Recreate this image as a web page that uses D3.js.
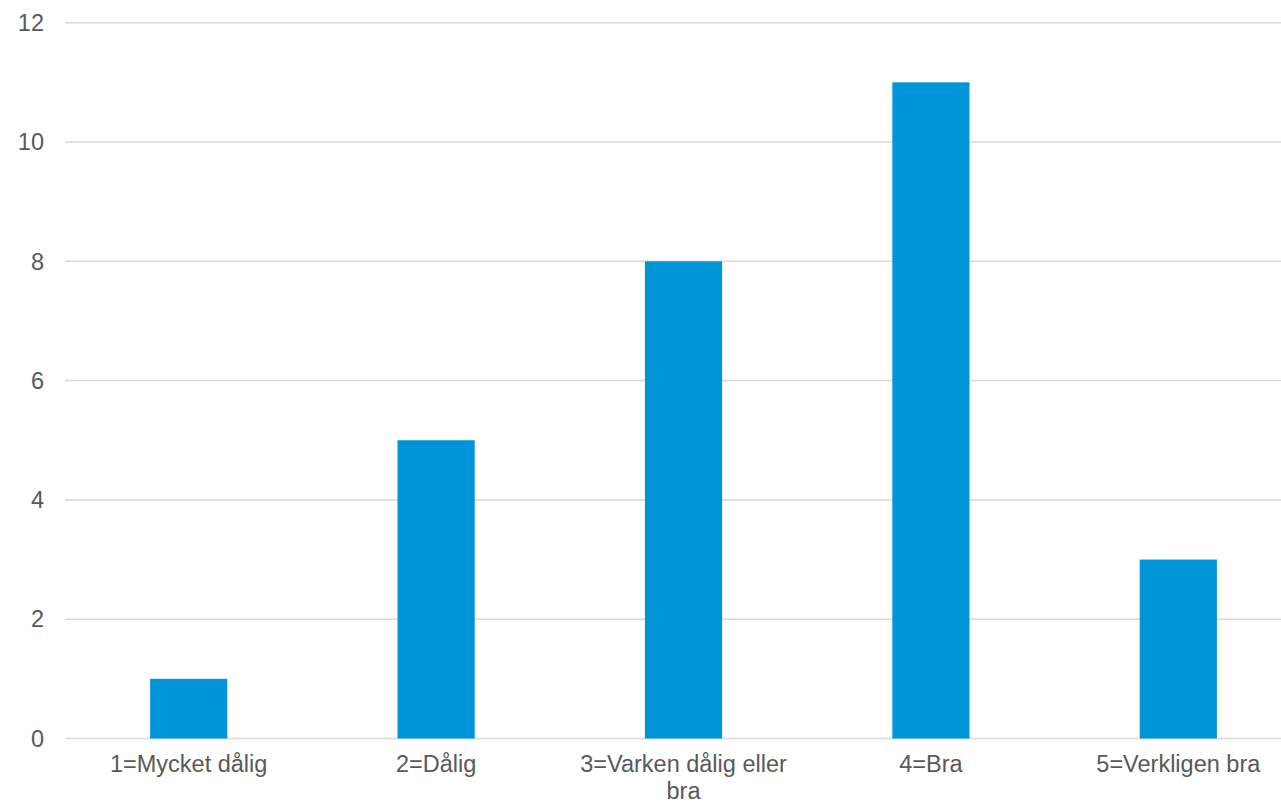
<!DOCTYPE html>
<html><head><meta charset="utf-8">
<script src="https://cdn.jsdelivr.net/npm/d3@7"></script>
<style>html,body{margin:0;padding:0;background:#fff;overflow:hidden}</style>
</head><body>
<svg id="c" width="1281" height="805"></svg>
<script>
const categories = ["1=Mycket dålig","2=Dålig","3=Varken dålig eller bra","4=Bra","5=Verkligen bra"];
const values = [1,5,8,11,3];
const yTicks = [0,2,4,6,8,10,12];

const svg = d3.select("#c");
const font = "'Liberation Sans', Arial, sans-serif";
const x = d3.scaleBand().domain(categories).range([65,1302]).paddingInner(0.688).paddingOuter(0.344);
const y = d3.scaleLinear().domain([0,12]).range([738.5,22.7]);

// gridlines
svg.append("g").selectAll("line").data(yTicks).join("line")
  .attr("x1",65).attr("x2",1281)
  .attr("y1",d=>y(d)).attr("y2",d=>y(d))
  .attr("stroke","#d9d9d9").attr("stroke-width",1.5);

// y labels
svg.append("g").selectAll("text").data(yTicks).join("text")
  .attr("x",44).attr("y",d=>y(d)).attr("dy","0.35em")
  .attr("text-anchor","end").attr("font-family",font).attr("font-size",23.5)
  .attr("fill","#595959").text(d=>d);

// bars
svg.append("g").selectAll("rect").data(values).join("rect")
  .attr("x",(d,i)=>x(categories[i])).attr("width",x.bandwidth())
  .attr("y",d=>y(d)).attr("height",d=>y(0)-y(d))
  .attr("fill","#0094d9");

// x labels with wrapping
const xl = svg.append("g").selectAll("text").data(categories).join("text")
  .attr("text-anchor","middle").attr("font-family",font).attr("font-size",23.5)
  .attr("fill","#595959");
xl.each(function(d){
  const t = d3.select(this);
  const cx = x(d)+x.bandwidth()/2;
  const words = d.split(" ");
  let lines=[], cur=[];
  const tmp = t.append("tspan");
  words.forEach(w=>{
    const test = cur.concat([w]).join(" ");
    tmp.text(test);
    if (tmp.node().getComputedTextLength() > 230 && cur.length){ lines.push(cur.join(" ")); cur=[w]; }
    else cur.push(w);
  });
  lines.push(cur.join(" "));
  tmp.remove();
  lines.forEach((l,i)=>{
    t.append("tspan").attr("x",cx).attr("y",772+i*27).text(l);
  });
});
</script>
</body></html>
